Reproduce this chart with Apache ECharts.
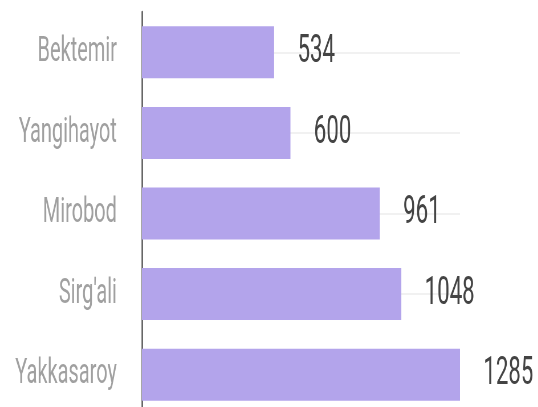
<!DOCTYPE html>
<html>
<head>
<meta charset="utf-8">
<script src="https://cdn.jsdelivr.net/npm/echarts@6/dist/echarts.min.js"></script>
<style>
  html, body { margin: 0; padding: 0; overflow: hidden; background: #fff; }
  /* the reference looks squeezed sideways, so draw wide and squeeze the same way */
  #chart { width: 944px; height: 407px; transform: scaleX(0.57); transform-origin: 0 0; }
</style>
</head>
<body>
<div id="chart"></div>
<script>
var districts = ["Bektemir", "Yangihayot", "Mirobod", "Sirg'ali", "Yakkasaroy"];
var counts = [534, 600, 961, 1048, 1285];

var chart = echarts.init(document.getElementById("chart"));
chart.setOption({
  animation: false,
  grid: {
    left: 249,
    right: 137,
    top: 12,
    height: 403,
    outerBoundsMode: "none"
  },
  xAxis: {
    type: "value",
    min: 0,
    max: "dataMax",
    show: false
  },
  yAxis: {
    type: "category",
    inverse: true,
    data: districts,
    axisLine: {
      lineStyle: { color: "#555", width: 2.5 }
    },
    axisTick: {
      alignWithLabel: true,
      length: 26,
      lineStyle: { color: "#555", width: 2 }
    },
    axisLabel: {
      margin: 44,
      color: "#a0a0a0",
      fontFamily: "Roboto",
      fontSize: 35
    },
    splitLine: { show: false }
  },
  series: [
    {
      type: "bar",
      data: counts,
      barWidth: 52,
      z: 2,
      itemStyle: { color: "#b3a4eb" },
      label: {
        show: true,
        position: "right",
        distance: 41,
        color: "#444",
        fontFamily: "Roboto",
        fontSize: 39
      },
      markLine: {
        silent: true,
        z: 1,
        symbol: ["none", "none"],
        label: { show: false },
        lineStyle: { color: "#ececec", width: 1.5, type: "solid" },
        data: districts.map(function (d) { return { yAxis: d }; })
      }
    }
  ]
});
</script>
</body>
</html>
